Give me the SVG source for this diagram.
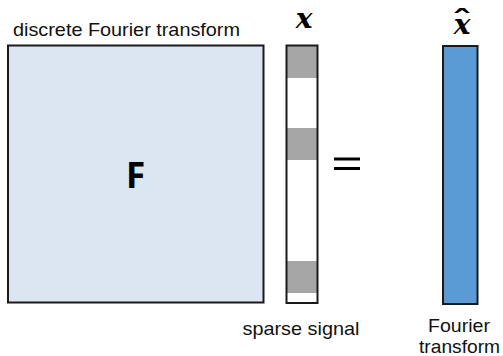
<svg xmlns="http://www.w3.org/2000/svg" width="503" height="356" viewBox="0 0 503 356">
<style>
.lbl{font-family:"Liberation Sans",Arial,sans-serif;font-size:18.5px;fill:#111}
.mx{font-family:"DejaVu Serif","Liberation Serif",serif;font-weight:bold;font-style:italic;font-size:28px;fill:#000}
.box{stroke:#1a1a1a;stroke-width:2}
.band{fill:#a6a6a6}
</style>
<rect width="503" height="356" fill="#fff"/>
<g id="matrix-F">
<rect class="box" x="8" y="45.5" width="255.5" height="257" fill="#dbe6f2"/>
<text x="135.5" y="187.5" text-anchor="middle" style="font-family:'Open Sans',sans-serif;font-weight:bold;font-size:35px;fill:#000">F</text>
<text class="lbl" x="13" y="36" textLength="227" lengthAdjust="spacingAndGlyphs">discrete Fourier transform</text>
</g>
<g id="sparse-x">
<rect x="286.5" y="45.5" width="31" height="257.5" fill="#fff"/>
<rect class="band" x="286.5" y="46" width="31" height="32"/>
<rect class="band" x="286.5" y="128" width="31" height="32"/>
<rect class="band" x="286.5" y="261" width="31" height="32"/>
<rect class="box" x="286.5" y="45.5" width="31" height="257.5" fill="none"/>
<text class="mx" x="304" y="28" text-anchor="middle">x</text>
<text class="lbl" x="301" y="335" text-anchor="middle" textLength="117" lengthAdjust="spacingAndGlyphs">sparse signal</text>
</g>
<g id="equals">
<rect x="334" y="157.5" width="26" height="3" fill="#000"/>
<rect x="334" y="167" width="26" height="3" fill="#000"/>
</g>
<g id="fourier-xhat">
<rect class="box" x="443" y="46" width="34.5" height="258" fill="#5b9bd5"/>
<text class="mx" x="462" y="34" text-anchor="middle">x</text>
<text x="451.5" y="30" textLength="21" lengthAdjust="spacingAndGlyphs" style="font-family:'DejaVu Serif',serif;font-weight:bold;font-size:28px;fill:#000">ˆ</text>
<text class="lbl" x="459" y="332" text-anchor="middle" textLength="62" lengthAdjust="spacingAndGlyphs">Fourier</text>
<text class="lbl" x="459.5" y="353" text-anchor="middle" textLength="81" lengthAdjust="spacingAndGlyphs">transform</text>
</g>
</svg>
